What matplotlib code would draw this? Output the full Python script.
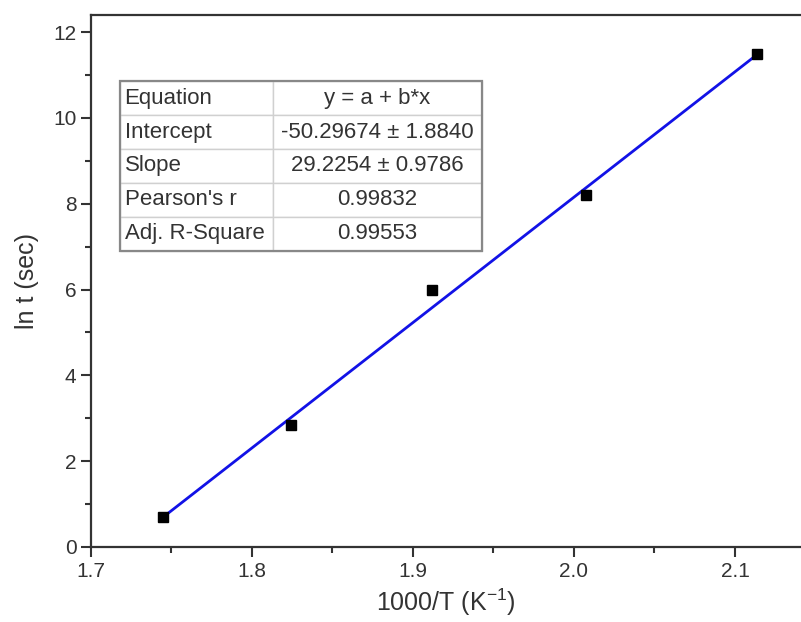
import matplotlib.pyplot as plt
import matplotlib.patches as patches
from matplotlib.ticker import MultipleLocator
import numpy as np

plt.rcParams['font.family'] = ['Liberation Sans', 'DejaVu Sans']

# 1000/T values and ln t measurements
inv_temp = [1.7448, 1.8243, 1.9115, 2.0074, 2.1135]
ln_t = [0.69, 2.85, 6.00, 8.20, 11.48]

# linear fit results
intercept = -50.29674
intercept_err = 1.8840
slope = 29.2254
slope_err = 0.9786
pearson_r = 0.99832
adj_r2 = 0.99553

row_labels = ['Equation', 'Intercept', 'Slope', "Pearson's r", 'Adj. R-Square']
row_values = ['y = a + b*x',
              f'{intercept:.5f} \u00b1 {intercept_err:.4f}',
              f'{slope:.4f} \u00b1 {slope_err:.4f}',
              f'{pearson_r:.5f}',
              f'{adj_r2:.5f}']

fig = plt.figure(figsize=(8.01, 6.22), dpi=100)
ax = fig.add_axes([0.1136, 0.1206, 0.8864, 0.8553])

ax.plot(inv_temp, ln_t, 's', color='black', markersize=7, zorder=3)
xfit = np.array([inv_temp[0], inv_temp[-1]])
ax.plot(xfit, intercept + slope * xfit, color='#1212e6', linewidth=2.0, zorder=2)

ax.set_xlim(1.7, 2.141)
ax.set_ylim(0, 12.4)
ax.xaxis.set_major_locator(MultipleLocator(0.1))
ax.xaxis.set_minor_locator(MultipleLocator(0.05))
ax.yaxis.set_major_locator(MultipleLocator(2))
ax.yaxis.set_minor_locator(MultipleLocator(1))
ax.set_xticks([1.7, 1.8, 1.9, 2.0, 2.1])
ax.set_xticklabels(['1.7', '1.8', '1.9', '2.0', '2.1'])

ax.tick_params(which='major', direction='out', length=7, width=1.5,
               labelsize=15, colors='#333333', labelcolor='#333333')
ax.tick_params(which='minor', direction='out', length=4, width=1.5, colors='#333333')
for side in ['left', 'bottom', 'top']:
    ax.spines[side].set_linewidth(1.6)
    ax.spines[side].set_color('#333333')
ax.spines['right'].set_visible(False)

ax.set_xlabel('1000/T (K$^{\\mathregular{-1}}$)', fontsize=18, color='#333333', labelpad=4)
ax.set_ylabel('ln t (sec)', fontsize=18, color='#333333', labelpad=10)

# fit parameter table
tbl = ax.table(cellText=[[a, b] for a, b in zip(row_labels, row_values)],
               colWidths=[0.423, 0.577],
               bbox=[0.0408, 0.5564, 0.510, 0.3195],
               zorder=4)
tbl.auto_set_font_size(False)
for (r, c), cell in tbl.get_celld().items():
    cell.set_edgecolor('#d0d0d0')
    cell.set_linewidth(1.0)
    cell.set_facecolor('white')
    txt = cell.get_text()
    txt.set_fontsize(16)
    txt.set_color('#333333')
    if c == 0:
        cell.set_text_props(ha='left')
        cell.PAD = 0.03
    else:
        cell.set_text_props(ha='center')
border = patches.Rectangle((0.0408, 0.5564), 0.510, 0.3195, transform=ax.transAxes,
                           fill=False, edgecolor='#888888', linewidth=1.6, zorder=5)
ax.add_patch(border)

fig.savefig('out.png', dpi=100)
